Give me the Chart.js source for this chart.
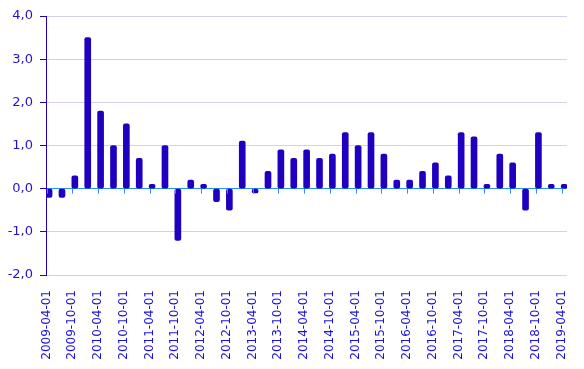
<!DOCTYPE html>
<html>
<head>
<meta charset="utf-8">
<script src="https://cdn.jsdelivr.net/npm/chart.js@4.4.0/dist/chart.umd.min.js"></script>
<style>
  html, body { margin: 0; padding: 0; background: #fff; }
</style>
</head>
<body>
<canvas id="myChart" width="584" height="369"></canvas>
<script>
let quarters = [
    '2009-04-01', '2009-07-01', '2009-10-01', '2010-01-01', '2010-04-01', '2010-07-01',
    '2010-10-01', '2011-01-01', '2011-04-01', '2011-07-01', '2011-10-01', '2012-01-01',
    '2012-04-01', '2012-07-01', '2012-10-01', '2013-01-01', '2013-04-01', '2013-07-01',
    '2013-10-01', '2014-01-01', '2014-04-01', '2014-07-01', '2014-10-01', '2015-01-01',
    '2015-04-01', '2015-07-01', '2015-10-01', '2016-01-01', '2016-04-01', '2016-07-01',
    '2016-10-01', '2017-01-01', '2017-04-01', '2017-07-01', '2017-10-01', '2018-01-01',
    '2018-04-01', '2018-07-01', '2018-10-01', '2019-01-01', '2019-04-01'
];
let values = [
    -0.2, -0.2, 0.3, 3.5, 1.8, 1.0, 1.5, 0.7, 0.1, 1.0, -1.2, 0.2,
    0.1, -0.3, -0.5, 1.1, -0.1, 0.4, 0.9, 0.7, 0.9, 0.7, 0.8, 1.3,
    1.0, 1.3, 0.8, 0.2, 0.2, 0.4, 0.6, 0.3, 1.3, 1.2, 0.1, 0.8,
    0.6, -0.5, 1.3, 0.1, 0.1
];
let tickLabels = [
    '2009-04-01', '2009-10-01', '2010-04-01', '2010-10-01', '2011-04-01', '2011-10-01',
    '2012-04-01', '2012-10-01', '2013-04-01', '2013-10-01', '2014-04-01', '2014-10-01',
    '2015-04-01', '2015-10-01', '2016-04-01', '2016-10-01', '2017-04-01', '2017-10-01',
    '2018-04-01', '2018-10-01', '2019-04-01'
];
let yTicks = [-2, -1, 0, 1, 2, 3, 4];

let barColor = '#2000c0';
let textColor = '#2412c8';
let zeroColor = '#2a8ff0';

// small tick marks hanging under the zero line, at each x label
let zeroTicks = {
    id: 'zeroTicks',
    afterDatasetsDraw: (chart) => {
        let ctx = chart.ctx;
        let x = chart.scales.x;
        let y0 = chart.scales.y.getPixelForValue(0);
        ctx.save();
        ctx.strokeStyle = zeroColor;
        ctx.lineWidth = 1;
        ctx.beginPath();
        x.ticks.forEach(t => {
            let px = Math.round(x.getPixelForValue(t.value)) + 0.5;
            ctx.moveTo(px, y0);
            ctx.lineTo(px, y0 + 5);
        });
        ctx.stroke();
        ctx.restore();
    }
};

let ctx = document.getElementById('myChart').getContext('2d');
let myChart = new Chart(ctx, {
    type: 'bar',
    data: {
        datasets: [{
            data: values.map((v, i) => ({ x: i, y: v })),
            backgroundColor: barColor,
            barThickness: 6,
            borderRadius: 2,
            borderSkipped: false
        }]
    },
    options: {
        responsive: false,
        animation: false,
        layout: { padding: { top: 16, right: 17, left: 0, bottom: 0 } },
        plugins: {
            legend: { display: false },
            tooltip: { enabled: false }
        },
        scales: {
            x: {
                type: 'linear',
                offset: false,
                min: -0.24,
                max: 40.22,
                afterBuildTicks: (scale) => {
                    scale.ticks = tickLabels.map((l, k) => ({ value: 2 * k - 0.2 }));
                },
                afterFit: (scale) => {
                    scale.height = 94;
                    scale.paddingLeft = 0;
                    scale.paddingRight = 0;
                },
                grid: { display: false, drawTicks: false },
                border: { display: false },
                ticks: {
                    autoSkip: false,
                    minRotation: 90,
                    maxRotation: 90,
                    padding: 15,
                    color: '#1a12dc',
                    font: { family: 'DejaVu Sans', size: 12 },
                    callback: (v, i) => tickLabels[i]
                }
            },
            y: {
                min: yTicks[0],
                max: yTicks[yTicks.length - 1],
                afterBuildTicks: (scale) => {
                    scale.ticks = yTicks.map(v => ({ value: v }));
                },
                afterFit: (scale) => { scale.width = 46; },
                grid: {
                    color: (c) => c.tick && c.tick.value === 0 ? zeroColor : '#d4d0f0',
                    tickColor: barColor,
                    tickLength: 6
                },
                border: { color: barColor, width: 1 },
                ticks: {
                    padding: 7,
                    color: textColor,
                    font: { family: 'DejaVu Sans', size: 13 },
                    callback: (v) => v.toFixed(1).replace('.', ',')
                }
            }
        }
    },
    plugins: [zeroTicks]
});
</script>
</body>
</html>
